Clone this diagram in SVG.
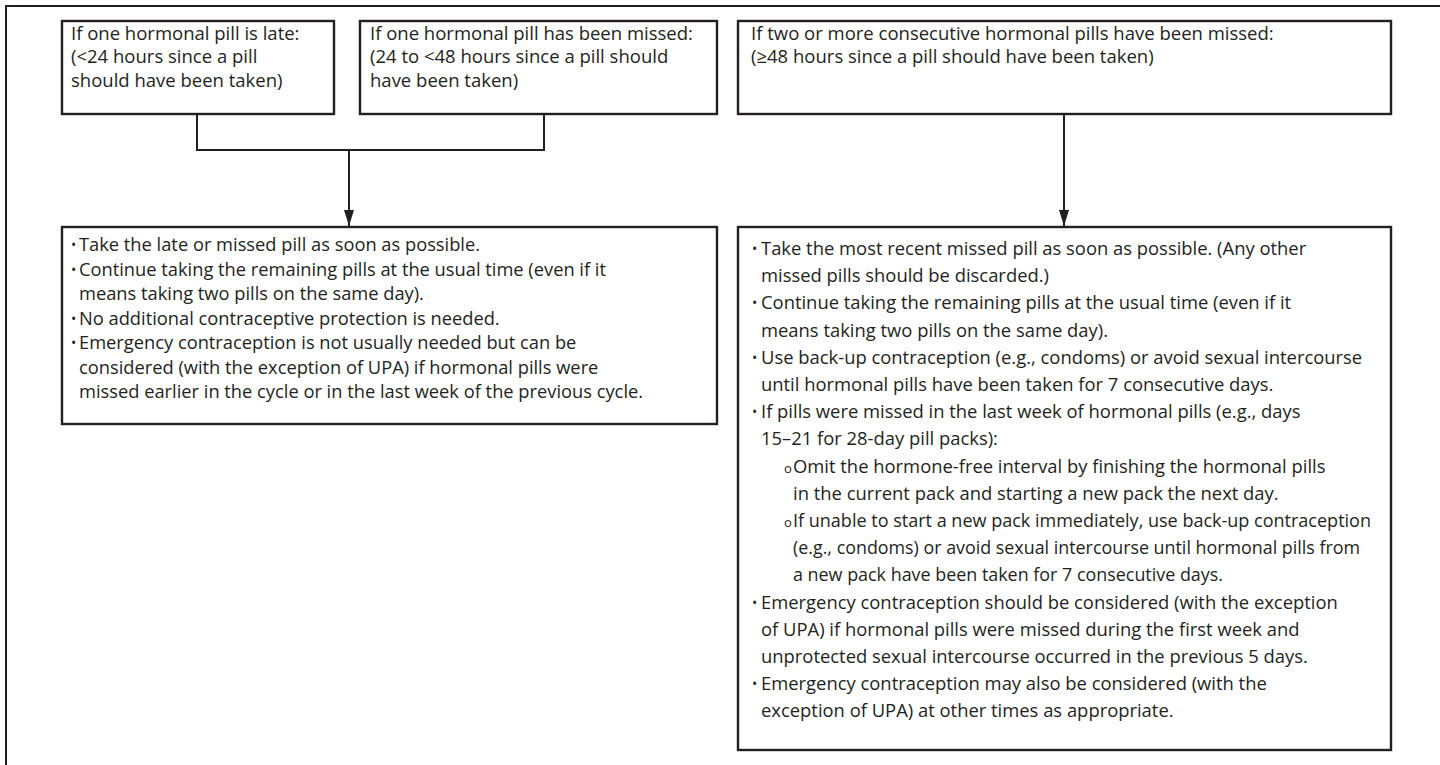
<svg xmlns="http://www.w3.org/2000/svg" width="1440" height="765" viewBox="0 0 1440 765">
<style>
.box{fill:#fff;stroke:#231f20;stroke-width:2.4}
.ln{fill:none;stroke:#231f20;stroke-width:2}
.t{font-family:"Open Sans","Liberation Sans",sans-serif;font-size:18.3px;fill:#231f20}
.r{font-family:"Open Sans","Liberation Sans",sans-serif;font-size:18.4px;fill:#231f20}
.h{font-family:"Open Sans","Liberation Sans",sans-serif;font-size:18.5px;fill:#231f20}
.b{font-family:"Open Sans","Liberation Sans",sans-serif;font-size:14px;fill:#231f20}
.o{font-family:"Open Sans","Liberation Sans",sans-serif;font-size:13px;fill:#231f20}
</style>
<defs>
<marker id="arr" viewBox="0 0 16 10" refX="16" refY="5" markerWidth="16" markerHeight="10" markerUnits="userSpaceOnUse" orient="auto">
<path d="M0,0 L16,5 L0,10 Z" fill="#231f20"/>
</marker>
</defs>
<rect width="1440" height="765" fill="#fff"/>
<g id="frame">
<path class="ln" d="M6,765 V6 H1440" stroke-width="2.4"/>
</g>
<g id="connectors">
<path class="ln" d="M197,114 V150 H544 V114"/>
<path class="ln" d="M349,150 V226" marker-end="url(#arr)"/>
<path class="ln" d="M1064,114 V226" marker-end="url(#arr)"/>
</g>
<g id="late">
<rect class="box" x="62" y="21" width="272" height="93"/>
<text class="h" y="40"><tspan x="71">If one hormonal pill is late:</tspan><tspan x="71" dy="23.3">(&lt;24 hours since a pill</tspan><tspan x="71" dy="23.3">should have been taken)</tspan></text>
</g>
<g id="missed-one">
<rect class="box" x="360" y="21" width="357" height="93"/>
<text class="h" y="40"><tspan x="370">If one hormonal pill has been missed:</tspan><tspan x="370" dy="23.3">(24 to &lt;48 hours since a pill should</tspan><tspan x="370" dy="23.3">have been taken)</tspan></text>
</g>
<g id="missed-two">
<rect class="box" x="738" y="21" width="653" height="93"/>
<text class="h" y="40"><tspan x="751">If two or more consecutive hormonal pills have been missed:</tspan><tspan x="751" dy="23.3">(≥48 hours since a pill should have been taken)</tspan></text>
</g>
<g id="actions-one">
<rect class="box" x="62" y="227" width="655" height="197"/>
<text class="b" x="71" y="250">•</text><text class="t" x="79" y="251">Take the late or missed pill as soon as possible.</text>
<text class="b" x="71" y="274.5">•</text><text class="t" y="275.5"><tspan x="79">Continue taking the remaining pills at the usual time (even if it</tspan><tspan x="79" dy="24.5">means taking two pills on the same day).</tspan></text>
<text class="b" x="71" y="323.5">•</text><text class="t" x="79" y="324.5">No additional contraceptive protection is needed.</text>
<text class="b" x="71" y="348">•</text><text class="t" y="349"><tspan x="79">Emergency contraception is not usually needed but can be</tspan><tspan x="79" dy="24.5">considered (with the exception of UPA) if hormonal pills were</tspan><tspan x="79" dy="24.5">missed earlier in the cycle or in the last week of the previous cycle.</tspan></text>
</g>
<g id="actions-two">
<rect class="box" x="738" y="227" width="653" height="523"/>
<text class="b" x="752" y="254">•</text><text class="r" y="255"><tspan x="761">Take the most recent missed pill as soon as possible. (Any other</tspan><tspan x="761" dy="27.2">missed pills should be discarded.)</tspan></text>
<text class="b" x="752" y="308.4">•</text><text class="r" y="309.4"><tspan x="761">Continue taking the remaining pills at the usual time (even if it</tspan><tspan x="761" dy="27.2">means taking two pills on the same day).</tspan></text>
<text class="b" x="752" y="362.8">•</text><text class="r" y="363.8"><tspan x="761">Use back-up contraception (e.g., condoms) or avoid sexual intercourse</tspan><tspan x="761" dy="27.2">until hormonal pills have been taken for 7 consecutive days.</tspan></text>
<text class="b" x="752" y="417.2">•</text><text class="r" y="418.2"><tspan x="761">If pills were missed in the last week of hormonal pills (e.g., days</tspan><tspan x="761" dy="27.2">15–21 for 28-day pill packs):</tspan></text>
<text class="o" x="784" y="472.6">o</text><text class="r" y="472.6"><tspan x="793">Omit the hormone-free interval by finishing the hormonal pills</tspan><tspan x="793" dy="27.2">in the current pack and starting a new pack the next day.</tspan></text>
<text class="o" x="784" y="527">o</text><text class="r" y="527"><tspan x="793" textLength="578" lengthAdjust="spacingAndGlyphs">If unable to start a new pack immediately, use back-up contraception</tspan><tspan x="793" dy="27.2" textLength="567" lengthAdjust="spacingAndGlyphs">(e.g., condoms) or avoid sexual intercourse until hormonal pills from</tspan><tspan x="793" dy="27.2" textLength="430" lengthAdjust="spacingAndGlyphs">a new pack have been taken for 7 consecutive days.</tspan></text>
<text class="b" x="752" y="607.6">•</text><text class="r" y="608.6"><tspan x="761">Emergency contraception should be considered (with the exception</tspan><tspan x="761" dy="27.2">of UPA) if hormonal pills were missed during the first week and</tspan><tspan x="761" dy="27.2">unprotected sexual intercourse occurred in the previous 5 days.</tspan></text>
<text class="b" x="752" y="689.2">•</text><text class="r" y="690.2"><tspan x="761">Emergency contraception may also be considered (with the</tspan><tspan x="761" dy="27.2">exception of UPA) at other times as appropriate.</tspan></text>
</g>
</svg>
